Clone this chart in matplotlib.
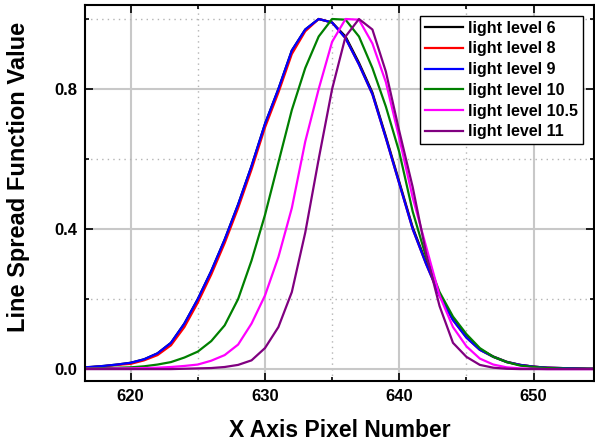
import numpy as np
import matplotlib
matplotlib.use("Agg")
import matplotlib.pyplot as plt
from matplotlib.ticker import MultipleLocator

plt.rcParams["font.family"] = ["Liberation Sans", "DejaVu Sans"]
plt.rcParams["font.weight"] = "bold"

# ----------------------------
# Data (pixel number vs. LSF value)
# ----------------------------
pixels = list(range(614, 657))

lsf_6 = [0.002, 0.003, 0.004, 0.006, 0.009, 0.013, 0.018, 0.028, 0.045, 0.075,
         0.13, 0.20, 0.28, 0.37, 0.47, 0.58, 0.70, 0.80, 0.91, 0.97,
         1.0, 0.99, 0.95, 0.875, 0.79, 0.665, 0.535, 0.405, 0.305, 0.215,
         0.145, 0.093, 0.057, 0.036, 0.021, 0.012, 0.007, 0.004, 0.003, 0.002,
         0.001, 0.001, 0.0]
lsf_8 = [0.002, 0.002, 0.003, 0.005, 0.008, 0.012, 0.015, 0.025, 0.040, 0.068,
         0.12, 0.19, 0.27, 0.36, 0.46, 0.57, 0.69, 0.79, 0.90, 0.965,
         1.0, 0.99, 0.945, 0.87, 0.785, 0.66, 0.53, 0.40, 0.30, 0.21,
         0.14, 0.09, 0.055, 0.035, 0.02, 0.012, 0.007, 0.004, 0.003, 0.002,
         0.001, 0.001, 0.0]
lsf_9 = [0.002, 0.003, 0.004, 0.006, 0.009, 0.013, 0.018, 0.028, 0.045, 0.075,
         0.13, 0.20, 0.28, 0.37, 0.47, 0.58, 0.70, 0.80, 0.91, 0.97,
         1.0, 0.99, 0.945, 0.87, 0.785, 0.66, 0.53, 0.40, 0.30, 0.21,
         0.14, 0.09, 0.055, 0.035, 0.02, 0.012, 0.007, 0.004, 0.003, 0.002,
         0.001, 0.001, 0.0]
lsf_10 = [0.001, 0.001, 0.002, 0.002, 0.003, 0.004, 0.005, 0.008, 0.013, 0.02,
          0.033, 0.05, 0.08, 0.125, 0.20, 0.31, 0.44, 0.59, 0.74, 0.86,
          0.95, 1.0, 0.998, 0.95, 0.86, 0.75, 0.62, 0.45, 0.32, 0.22,
          0.15, 0.10, 0.06, 0.035, 0.02, 0.01, 0.006, 0.003, 0.002, 0.001,
          0.001, 0.0, 0.0]
lsf_105 = [0.0, 0.0, 0.001, 0.001, 0.001, 0.002, 0.002, 0.003, 0.004, 0.006,
           0.009, 0.013, 0.024, 0.04, 0.07, 0.13, 0.21, 0.32, 0.46, 0.65,
           0.80, 0.935, 1.0, 0.998, 0.93, 0.82, 0.66, 0.49, 0.35, 0.21,
           0.12, 0.065, 0.03, 0.013, 0.005, 0.002, 0.001, 0.0, 0.0, 0.0,
           0.0, 0.0, 0.0]
lsf_11 = [0.0, 0.0, 0.0, 0.0, 0.0, 0.0, 0.0, 0.0, 0.0, 0.0,
          0.001, 0.002, 0.003, 0.006, 0.012, 0.025, 0.06, 0.12, 0.22, 0.39,
          0.60, 0.80, 0.95, 1.0, 0.97, 0.85, 0.68, 0.52, 0.33, 0.18,
          0.075, 0.035, 0.012, 0.004, 0.001, 0.0, 0.0, 0.0, 0.0, 0.0,
          0.0, 0.0, 0.0]

series = [
    ("light level 6", lsf_6, "black"),
    ("light level 8", lsf_8, "red"),
    ("light level 9", lsf_9, "blue"),
    ("light level 10", lsf_10, "green"),
    ("light level 10.5", lsf_105, "magenta"),
    ("light level 11", lsf_11, "purple"),
]

fig = plt.figure(figsize=(5.95, 4.44), dpi=100)
ax = fig.add_axes([85 / 595, 1 - 381 / 444, 509 / 595, 376 / 444])

for label, values, color in series:
    ax.plot(pixels, values, color=color, linewidth=1.6, label=label)

ax.set_xlim(616.6, 654.5)
ax.set_ylim(-0.034, 1.04)
ax.xaxis.set_major_locator(MultipleLocator(10))
ax.xaxis.set_minor_locator(MultipleLocator(5))
ax.yaxis.set_major_locator(MultipleLocator(0.4))
ax.yaxis.set_minor_locator(MultipleLocator(0.2))
ax.yaxis.set_major_formatter(plt.FormatStrFormatter("%.1f"))

# grid: solid on major, dotted on minor
ax.grid(which="major", color="#c8c8c8", linewidth=1.5, linestyle="-")
ax.grid(which="minor", color="#b4b4b4", linewidth=1.0, linestyle=(0, (1, 3)))
ax.set_axisbelow(True)

ax.tick_params(which="both", direction="in", top=True, right=True,
               width=1.2, color="black")
ax.tick_params(which="major", length=6, labelsize=12, pad=5.5)
ax.tick_params(which="minor", length=3)
for lbl in ax.get_xticklabels() + ax.get_yticklabels():
    lbl.set_fontweight("bold")
for spine in ax.spines.values():
    spine.set_linewidth(1.5)
    spine.set_color("black")

ax.set_xlabel("X Axis Pixel Number", fontsize=16.5, fontweight="bold")
ax.set_ylabel("Line Spread Function Value", fontsize=17, fontweight="bold")
ax.xaxis.set_label_coords(0.5, -0.1)
ax.yaxis.set_label_coords(-0.108, 0.543)

leg = ax.legend(loc="upper right", bbox_to_anchor=(0.978, 0.971), borderaxespad=0,
                fancybox=False, edgecolor="black", framealpha=1,
                handlelength=2.4, handletextpad=0.3, labelspacing=0.36,
                borderpad=0.3, prop={"weight": "bold", "size": 11.5})
leg.get_frame().set_linewidth(1.0)

fig.savefig("out.png", dpi=100)
